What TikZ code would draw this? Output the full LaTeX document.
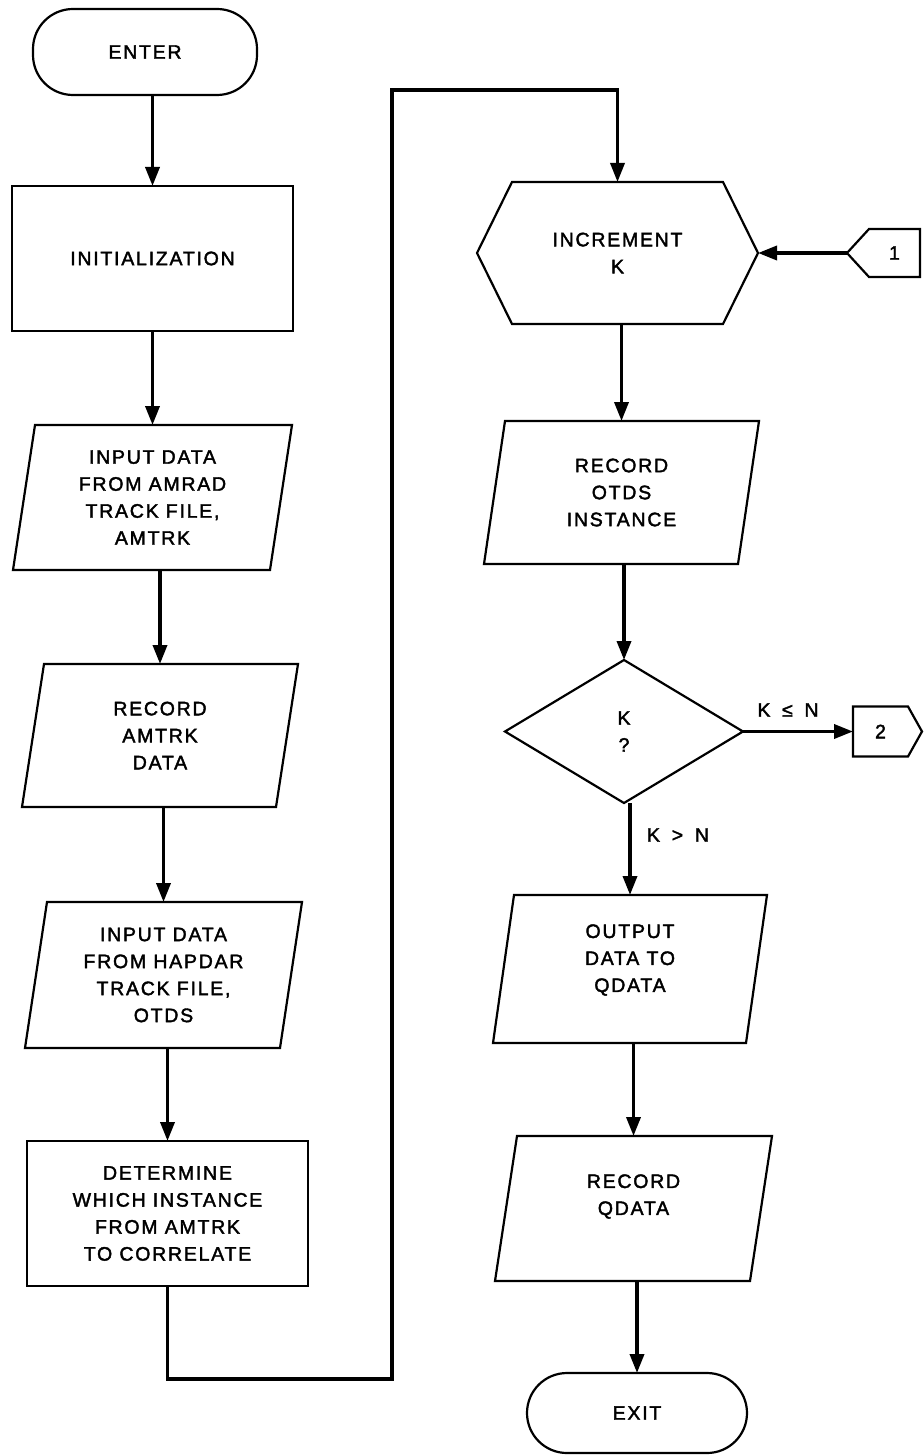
\documentclass[tikz,border=0pt]{standalone}
\usepackage{fontspec}
\setmainfont{Liberation Sans}[LetterSpace=9, FakeBold=2]
\usetikzlibrary{arrows.meta}

% type size used for every label in the chart
\newcommand\flowfont{\fontsize{19.5}{27}\selectfont}

% outlines drawn around invisible rectangular nodes
\newcommand\paraoutline[2]{%
  \draw[outline] ([xshift=#2]#1.north west) -- (#1.north east)
    -- ([xshift=-#2]#1.south east) -- (#1.south west) -- cycle;}
\newcommand\hexoutline[2]{%
  \draw[outline] (#1.west) -- ([xshift=#2]#1.north west)
    -- ([xshift=-#2]#1.north east) -- (#1.east)
    -- ([xshift=-#2]#1.south east) -- ([xshift=#2]#1.south west) -- cycle;}
\newcommand\diamondoutline[1]{%
  \draw[outline] (#1.north) -- (#1.east) -- (#1.south) -- (#1.west) -- cycle;}

\begin{document}
\begin{tikzpicture}[x=1pt,y=-1pt,
  outline/.style={line width=2.2pt, line join=miter},
  area/.style={inner sep=0pt, outer sep=0pt, align=center, font=\flowfont,
               minimum width=#1},
  term/.style={draw, line width=2.2pt, rounded corners=40pt, inner sep=0pt,
               outer sep=0pt, align=center, font=\flowfont},
  txt/.style={inner sep=0pt, align=center, font=\flowfont},
  arr/.style={line width=3.6pt, -{Triangle[length=19pt,width=14pt]}},
  loopline/.style={line width=3.4pt, line join=miter},
]
\fill[white] (0,0) rectangle (923,1455);
\useasboundingbox (0,0) rectangle (923,1455);

% ---- left column ----
\node[term, minimum width=224pt, minimum height=86pt] (enter) at (145,52) {ENTER};

\node[area=281pt, minimum height=145pt, draw, line width=2.2pt] (init) at (152.5,258.5) {INITIALIZATION};

\node[area=279pt, minimum height=145pt] (in1) at (152.5,497.5)
  {INPUT DATA\\FROM AMRAD\\TRACK FILE,\\AMTRK};
\paraoutline{in1}{22}

\node[area=276pt, minimum height=143pt] (rec1) at (160,735.5)
  {RECORD\\AMTRK\\DATA};
\paraoutline{rec1}{22}

\node[area=277pt, minimum height=146pt] (in2) at (163.5,975)
  {INPUT DATA\\FROM HAPDAR\\TRACK FILE,\\OTDS};
\paraoutline{in2}{22}

\node[area=281pt, minimum height=145pt, draw, line width=2.2pt] (det) at (167.5,1213.5)
  {DETERMINE\\WHICH INSTANCE\\FROM AMTRK\\TO CORRELATE};

% ---- right column ----
\node[area=281pt, minimum height=142pt] (inc) at (617.5,253) {INCREMENT\\K};
\hexoutline{inc}{35}

\node[area=51pt, minimum height=48pt] (c1) at (894.5,253) {1};
\draw[outline] (c1.north east) -- (c1.north west) -- ([xshift=-22]c1.west)
  -- (c1.south west) -- (c1.south east) -- cycle;

\node[area=275pt, minimum height=143pt] (rec2) at (621.5,492.5)
  {RECORD\\OTDS\\INSTANCE};
\paraoutline{rec2}{21}

\node[area=238pt, minimum height=143pt] (dec) at (624,731.5) {K\\?};
\diamondoutline{dec}

\node[area=55pt, minimum height=50pt] (c2) at (880.5,731.5) {2};
\draw[outline] (c2.north west) -- (c2.north east) -- ([xshift=14]c2.east)
  -- (c2.south east) -- (c2.south west) -- cycle;

\node[area=274pt, minimum height=148pt] (out) at (630,969) {};
\paraoutline{out}{21}
\node[txt] (outtext) at (630,960) {OUTPUT\\DATA TO\\QDATA};

\node[area=277pt, minimum height=145pt] (rq) at (633.5,1208.5) {};
\paraoutline{rq}{22}
\node[txt] (rqtext) at (633.5,1196.5) {RECORD\\QDATA};

\node[term, minimum width=220pt, minimum height=80pt] (exit) at (637,1413) {EXIT};

% branch labels
\node[txt] (le) at (788,710) {K\hspace{0.6em}≤\hspace{0.6em}N};
\node[txt] (gt) at (678,835) {K\hspace{0.6em}>\hspace{0.6em}N};

% ---- connectors ----
\draw[arr] (enter.south -| init.north) -- (init.north);
\draw[arr] (init.south -| in1.north) -- (in1.north);
\draw[arr] (in1.south -| rec1.north) -- (rec1.north);
\draw[arr] (rec1.south -| in2.north) -- (in2.north);
\draw[arr] (in2.south -| det.north) -- (det.north);

\coordinate (lowturn) at (392,1379);
\coordinate (highturn) at (392,90);
\draw[loopline, -{Triangle[length=19pt,width=14pt]}]
  (det.south) |- (lowturn) -- (highturn) -| (inc.north);

\draw[arr] ([xshift=-22]c1.west) -- (inc.east);
\draw[arr] (inc.south -| rec2.north) -- (rec2.north);
\draw[arr] (rec2.south -| dec.north) -- (dec.north);
\draw[arr] (dec.east) -- (c2.west);
\draw[arr] (dec.south -| out.north) -- (out.north);
\draw[arr] (out.south -| rq.north) -- (rq.north);
\draw[arr] (rq.south -| exit.north) -- (exit.north);
\end{tikzpicture}
\end{document}
